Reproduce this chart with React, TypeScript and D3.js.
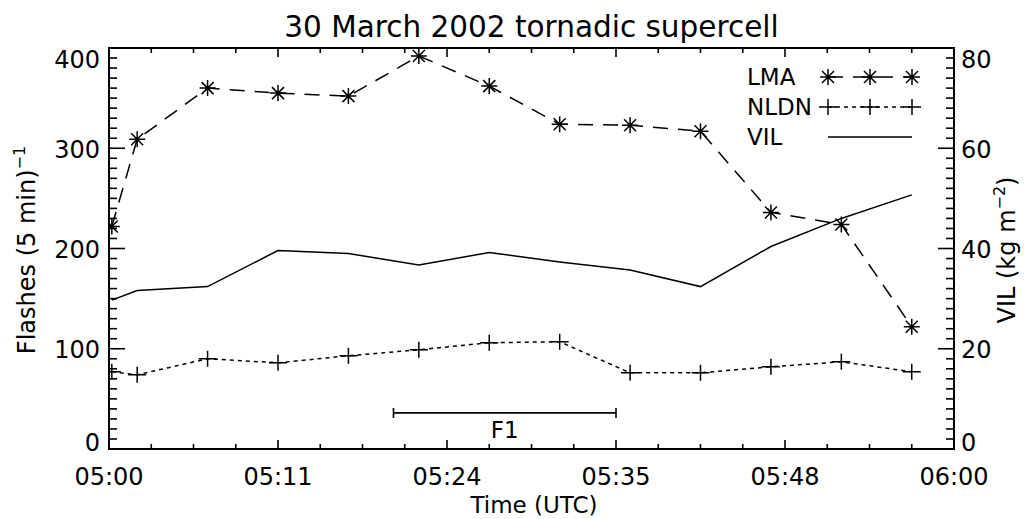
import React from 'react';
import * as d3 from 'd3';

const W = 1032;
const H = 519;

// minutes after 05:00 UTC
const times = [0.2, 2, 7, 12, 17, 22, 27, 32, 37, 42, 47, 52, 57];
const lmaFlashes = [222, 309, 360, 355, 352, 392, 362, 324, 323, 317, 236, 224, 122];
const nldnFlashes = [77, 74, 90, 86, 93, 99, 106, 107, 76, 76, 82, 87, 77];
const vilValues = [29.7, 31.6, 32.4, 39.6, 39.0, 36.7, 39.2, 37.3, 35.7, 32.4, 40.4, 46.0, 50.7];

const xTickMinutes = [0, 12, 24, 36, 48, 60];
const xTickLabels = ['05:00', '05:11', '05:24', '05:35', '05:48', '06:00'];
const leftTicks = [0, 100, 200, 300, 400];
const rightTicks = [0, 20, 40, 60, 80];
const legendLabels = ['LMA', 'NLDN', 'VIL'];
const f1Span = [20.2, 36];
const f1Level = 36;
const f1Label = 'F1';
const titleText = '30 March 2002 tornadic supercell';

const FONT = '"DejaVu Sans", sans-serif';

const starPath = 'M-8,0H8M0,-8V8M-6,-6L6,6M-6,6L6,-6';
const plusPath = 'M-9,0H9M0,-8V8';

export default function App() {
  const L = 109, R = 954, T = 48, B = 449;
  const x = d3.scaleLinear().domain([0, 60]).range([L, R]);
  const yL = d3.scaleLinear().domain([0, 400]).range([B, T]);
  const yR = d3.scaleLinear().domain([0, 80]).range([B, T]);

  const lineL = d3.line<number>().x((_, i) => x(times[i])).y((d) => yL(d));
  const lineR = d3.line<number>().x((_, i) => x(times[i])).y((d) => yR(d));

  const xMinor = d3.range(0, 61, 3);
  const yMinor = d3.range(0, 401, 10);
  const yMinorR = d3.range(0, 81, 2);

  const labelCenter = (py: number) => {
    if (Math.abs(py - T) < 1) return py + 11;
    if (Math.abs(py - B) < 1) return py - 7;
    return py + 0.5;
  };

  const legX = [828, 870, 912];
  const legY = [77, 107, 137];

  return (
    <div style={{ position: 'absolute', left: 0, top: 0 }}>
      <svg width={W} height={H} viewBox={`0 0 ${W} ${H}`} style={{ display: 'block', background: '#fff' }}>
        <defs>
          <clipPath id="plotClip">
            <rect x={L} y={T} width={R - L} height={B - T} />
          </clipPath>
        </defs>
        <rect x={0} y={0} width={W} height={H} fill="#fff" />

        {/* title */}
        <text x={(L + R) / 2} y={37} textAnchor="middle" fontFamily={FONT} fontSize={29.5} fill="#000">
          {titleText}
        </text>

        {/* frame */}
        <rect x={L} y={T} width={R - L} height={B - T} fill="none" stroke="#000" strokeWidth={2} />

        {/* x ticks bottom & top */}
        {xMinor.map((m) => {
          const major = m % 12 === 0;
          const len = major ? 9 : 5;
          return (
            <g key={'xt' + m} stroke="#000" strokeWidth={1.6}>
              <line x1={x(m)} x2={x(m)} y1={B} y2={B - len} />
              <line x1={x(m)} x2={x(m)} y1={T} y2={T + len} />
            </g>
          );
        })}
        {xTickMinutes.map((m, i) => (
          <text key={'xl' + m} x={x(m)} y={485} textAnchor="middle" fontFamily={FONT} fontSize={24} fill="#000">
            {xTickLabels[i]}
          </text>
        ))}

        {/* left ticks */}
        {yMinor.map((v) => {
          const len = v % 100 === 0 ? 16 : 8;
          return <line key={'yl' + v} x1={L} x2={L + len} y1={yL(v)} y2={yL(v)} stroke="#000" strokeWidth={1.6} />;
        })}
        {leftTicks.map((v) => (
          <text key={'yll' + v} x={100} y={labelCenter(yL(v)) + 9} textAnchor="end" fontFamily={FONT} fontSize={24} fill="#000">
            {v}
          </text>
        ))}

        {/* right ticks */}
        {yMinorR.map((v) => {
          const len = v % 20 === 0 ? 16 : 8;
          return <line key={'yr' + v} x1={R} x2={R - len} y1={yR(v)} y2={yR(v)} stroke="#000" strokeWidth={1.6} />;
        })}
        {rightTicks.map((v) => (
          <text key={'yrl' + v} x={961} y={labelCenter(yR(v)) + 9} textAnchor="start" fontFamily={FONT} fontSize={24} fill="#000">
            {v}
          </text>
        ))}

        {/* axis titles */}
        <text x={534} y={513} textAnchor="middle" fontFamily={FONT} fontSize={23} fill="#000">
          Time (UTC)
        </text>
        <text transform="translate(35,250) rotate(-90)" textAnchor="middle" fontFamily={FONT} fontSize={24} fill="#000">
          Flashes (5 min)
          <tspan fontSize={16} dy={-10}>−1</tspan>
        </text>
        <text transform="translate(1015,250) rotate(-90)" textAnchor="middle" fontFamily={FONT} fontSize={24} fill="#000">
          VIL (kg m
          <tspan fontSize={16} dy={-10}>−2</tspan>
          <tspan dy={10}>)</tspan>
        </text>

        {/* data */}
        <g clipPath="url(#plotClip)" fill="none" stroke="#000" strokeWidth={1.5}>
          <path d={lineR(vilValues) || ''} />
          <path d={lineL(nldnFlashes) || ''} strokeDasharray="4 4" />
          <path d={lineL(lmaFlashes) || ''} strokeDasharray="15 10" />
          {lmaFlashes.map((v, i) => (
            <path key={'s' + i} d={starPath} transform={`translate(${x(times[i])},${yL(v)})`} strokeDasharray="none" />
          ))}
          {nldnFlashes.map((v, i) => (
            <path key={'p' + i} d={plusPath} transform={`translate(${x(times[i])},${yL(v)})`} strokeDasharray="none" />
          ))}
        </g>

        {/* F1 bar */}
        <g stroke="#000" strokeWidth={1.6}>
          <line x1={x(f1Span[0])} x2={x(f1Span[1])} y1={yL(f1Level)} y2={yL(f1Level)} />
          <line x1={x(f1Span[0])} x2={x(f1Span[0])} y1={yL(f1Level) - 5} y2={yL(f1Level) + 5} />
          <line x1={x(f1Span[1])} x2={x(f1Span[1])} y1={yL(f1Level) - 5} y2={yL(f1Level) + 5} />
        </g>
        <text x={(x(f1Span[0]) + x(f1Span[1])) / 2} y={438} textAnchor="middle" fontFamily={FONT} fontSize={23} fill="#000">
          {f1Label}
        </text>

        {/* legend */}
        {legendLabels.map((lab, i) => (
          <text key={'lg' + lab} x={747} y={legY[i] + 8} fontFamily={FONT} fontSize={23} fill="#000">
            {lab}
          </text>
        ))}
        <g fill="none" stroke="#000" strokeWidth={1.5}>
          <line x1={legX[0]} x2={legX[2]} y1={legY[0]} y2={legY[0]} strokeDasharray="15 10" />
          {legX.map((lx) => (
            <path key={'ls' + lx} d={starPath} transform={`translate(${lx},${legY[0]})`} />
          ))}
          <line x1={legX[0]} x2={legX[2]} y1={legY[1]} y2={legY[1]} strokeDasharray="4 4" />
          {legX.map((lx) => (
            <path key={'lp' + lx} d={plusPath} transform={`translate(${lx},${legY[1]})`} />
          ))}
          <line x1={legX[0]} x2={legX[2]} y1={legY[2]} y2={legY[2]} />
        </g>
      </svg>
    </div>
  );
}
